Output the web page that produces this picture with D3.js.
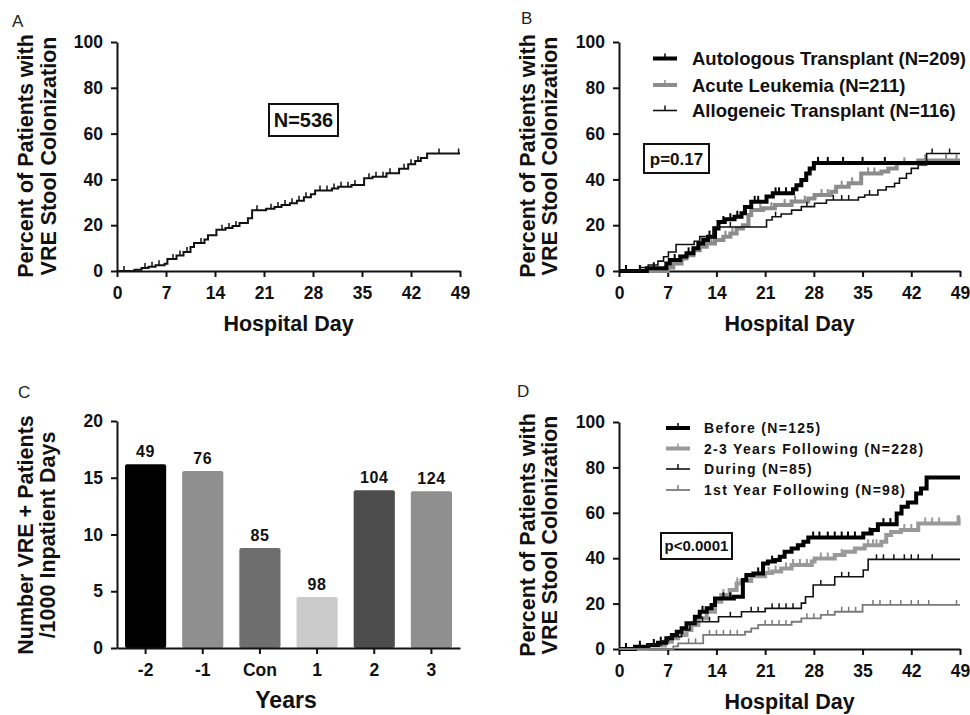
<!DOCTYPE html>
<meta charset="utf-8">
<style>
body { margin: 0; background: #fff; }
svg { display: block; }
.ttl { font-family: "Liberation Sans", Arial, sans-serif; font-weight: bold; fill: #111; }
.axis path, .axis line { stroke: #111; stroke-width: 2px; }
</style>
<body>
<script src="https://d3js.org/d3.v7.min.js"></script>
<script>

// shared axis ticks
const dayTicks = [0, 7, 14, 21, 28, 35, 42, 49];
const pctTicks = [0, 20, 40, 60, 80, 100];

// panel A: whole cohort, [day, percent] at each step
const stepsAll = [[0,0],[2.5,0.6],[3.5,1.3],[4.5,1.9],[5.5,2.5],[6.8,3.2],[7.2,5.2],[8.5,6.8],[9.5,8.3],[10.5,10.5],[11,12.2],[12.5,13.8],[13,15.6],[14.2,18],[15.5,18.8],[16.5,19.6],[17.5,21],[18.7,23],[19.3,26.5],[21.3,27.2],[22.5,28],[23.5,28.8],[24.7,29.6],[25.7,30.7],[26.7,32.2],[27.7,33.5],[28.3,35.2],[30.7,36],[31.6,36.8],[33.5,37.6],[35.3,40.5],[36.5,41.2],[38.5,42.7],[40.3,44.6],[41.6,46.6],[42.6,48],[43.4,49.3],[44.3,51.3]];
const censorAll = [1,4,5,6,8,9,10,12,15,16,17,20,22,23,24,25,26,27,29,30,31,32,33,34,36,37,38,39,41,42,43,46,48.8];

// panel B: by diagnosis
const stepsAuto = [[0,0],[4,1.2],[6.8,3.3],[7.3,4.8],[8.8,6.3],[9.7,7.7],[10.7,9.9],[11.4,12],[12.1,13.5],[12.8,15],[13.8,18.6],[14.3,21.4],[15.2,22.6],[16.6,23.7],[17.6,25.2],[18.1,28],[19,30.2],[21.2,32.5],[22.1,33.9],[25,35.7],[25.5,37.5],[26.2,39.7],[26.9,42.6],[27.4,44.8],[28,47.2]];
const censorAuto = [1,3,5,8,10,13,15,16,17,19.5,20,22.5,23,24,28.6,30,32.2,35,38.2];
const stepsLeuk = [[0,0],[7,1.5],[7.8,3.3],[9,5.5],[9.7,6.9],[10.7,9.1],[11.6,10.6],[12.6,12],[13.8,13.5],[15,15],[16,16.4],[16.9,18.6],[17.8,20],[18.6,24.4],[19,26.6],[20.7,27.4],[22.4,28.8],[24.8,30.3],[27.2,31.7],[28.1,33.2],[30.5,34.6],[31.2,36.8],[33,38.3],[34.8,42.6],[37.7,43.4],[38.7,44.8],[39.9,47],[43,48.3]];
const censorLeuk = [12.9,13.3,15.3,16.3,20.3,21.9,23.8,25.3,26.7,29.1,30,32,33.5,35.8,36.7,41,44,47,48.5];
const stepsAllo = [[0,0],[3,1.5],[4.2,2.6],[5.6,4.3],[6.4,6.2],[7.1,8.3],[8.2,11.6],[10.8,13],[11.6,15],[13.5,19.2],[21.2,22.3],[22,23.7],[23.3,24.9],[24.8,26.6],[26.2,28.1],[28.1,29.6],[29.8,31],[34.4,32.2],[35.3,33.2],[37.2,35.4],[38.4,36.8],[39.6,38.3],[40.3,40.5],[41.3,42.6],[42,44.8],[43,46.3],[44.2,51.3]];
const censorAllo = [1,16,22.5,27,30.8,32,33,36,45,47.5];

// panel C: rate per 1000 inpatient days, by year
const years = ["-2", "-1", "Con", "1", "2", "3"];
const rates = [16.2, 15.6, 8.8, 4.5, 13.9, 13.8];
const patients = [49, 76, 85, 98, 104, 124];
const barFills = ["#000000", "#8f8f8f", "#6e6e6e", "#cbcbcb", "#4d4d4d", "#8f8f8f"];

// panel D: by period
const stepsBefore = [[0,0],[2.3,1],[4.2,1.8],[5.6,2.8],[6.8,4.7],[7.6,6.2],[8.3,7.6],[9,9.1],[9.7,11.3],[10.9,14.2],[11.6,16.4],[12.6,17.9],[13.3,19.4],[13.8,22.3],[16.5,23],[17.8,30.4],[18.3,32.6],[19.3,33.3],[20.7,37.7],[21.4,38.5],[22.4,39.2],[23.1,40.6],[23.8,42.8],[24.8,44.3],[25.7,45.7],[26.5,47.2],[27.2,49.1],[35.1,50.9],[36.3,52.4],[37.2,55],[39.9,59.7],[40.6,62.7],[41.5,64.5],[42.7,68.5],[43.4,70.7],[44.2,75.5]];
const censorBefore = [1,3,5,6,12,15,16,20,22,27.9,28.8,30,31,32,32.9,33.9,36,38,39];
const stepsLater = [[0,0],[4.2,1.5],[6.6,3.2],[7.6,4.7],[8.5,6.2],[9.7,8.4],[10.4,10.6],[11.4,13.5],[12.6,16.4],[13.8,20.8],[14.7,23.8],[15.9,26],[16.9,28.9],[17.6,30],[19,32],[21,33.5],[22,34.1],[23.3,35.5],[24.8,37],[27.7,38.5],[28.1,39.9],[31,41.4],[32.4,42.8],[33.9,44.3],[35.3,45.7],[37.7,47.2],[38.4,50.2],[39.1,51.5],[40.5,52.4],[43,55.3],[48.8,58]];
const censorLater = [15,17,21.5,22.5,24,25,26,27,29,30,32,35.8,36.5,37,41,42,44,45,46];
const stepsDuring = [[0,0],[4.2,1.8],[6.1,3.5],[7.1,5.4],[9,8.4],[10.2,11.3],[10.9,12],[14.3,14.2],[17.6,16.4],[21,17.9],[26.2,20.2],[26.8,23],[27.9,28.2],[31,31.8],[35.1,34.8],[35.8,39.5]];
const censorDuring = [3,5,12,13,16,19,20,22,23,24,25,29,32,33,37,38,39.5,41,42,43,45];
const stepsFirst = [[0,0],[7.8,1.2],[8.5,2.5],[12.1,6.2],[18.1,7.6],[19,9.1],[20,10.6],[24.8,12],[26.2,13.5],[29,15],[31,16.4],[35,19.4]];
const censorFirst = [10,11,13,14,15,16,17,21,22,23,24,27,28,30,32,33,34,36.5,37.5,39,40.5,42,43,44.5,48.5];

const svg = d3.select("body").append("svg")
   .attr("width", 970)
   .attr("height", 715);

const plotA = {left: 117, right: 460, top: 42, bottom: 271};
const plotB = {left: 619, right: 960, top: 42, bottom: 271};
const plotC = {left: 117, right: 460, top: 421, bottom: 648};
const plotD = {left: 619, right: 960, top: 422, bottom: 649};

function panelLetter(txt, x, y) {
   svg.append("text")
      .attr("x", x).attr("y", y)
      .style("font-family", "Liberation Sans, Arial, sans-serif")
      .style("font-size", "17px")
      .style("fill", "#222")
      .text(txt);
}

function yTitle(lines, x1, x2, yc) {
   [x1, x2].forEach(function(x, i) {
      svg.append("text")
         .attr("class", "ttl")
         .attr("transform", `translate(${x},${yc}) rotate(-90)`)
         .attr("text-anchor", "middle")
         .style("font-size", "21.5px")
         .text(lines[i]);
   });
}

function boxLabel(txt, x0, y0, x1, y1, size) {
   svg.append("rect")
      .attr("x", x0).attr("y", y0)
      .attr("width", x1 - x0).attr("height", y1 - y0)
      .attr("fill", "#fff").attr("stroke", "#111").attr("stroke-width", 2);
   svg.append("text")
      .attr("class", "ttl")
      .attr("x", (x0 + x1) / 2).attr("y", (y0 + y1) / 2)
      .attr("dy", "0.36em")
      .attr("text-anchor", "middle")
      .style("font-size", size)
      .text(txt);
}

// bold tick labels, set on the text itself so d3's font attrs don't win
function styleTicks(g) {
   g.selectAll(".tick text")
      .style("font-family", "Liberation Sans, Arial, sans-serif")
      .style("font-weight", "bold")
      .style("font-size", "17.5px")
      .style("fill", "#111");
}

function kmPanel(p, series) {
   const x = d3.scaleLinear().domain([0, 49]).range([p.left, p.right]);
   const y = d3.scaleLinear().domain([0, 100]).range([p.bottom, p.top]);

   svg.append("g")
      .attr("class", "axis")
      .attr("transform", `translate(0,${p.bottom})`)
      .call(d3.axisBottom(x).tickValues(dayTicks).tickSizeInner(6).tickSizeOuter(0).tickPadding(10))
      .call(styleTicks);
   svg.append("g")
      .attr("class", "axis")
      .attr("transform", `translate(${p.left},0)`)
      .call(d3.axisLeft(y).tickValues(pctTicks).tickSizeInner(6).tickSizeOuter(0).tickPadding(8))
      .call(styleTicks);

   svg.append("text")
      .attr("class", "ttl")
      .attr("x", (p.left + p.right) / 2).attr("y", p.bottom + 60)
      .attr("text-anchor", "middle")
      .style("font-size", "21.5px")
      .text("Hospital Day");

   const line = d3.line()
      .curve(d3.curveStepAfter)
      .x(d => x(d[0]))
      .y(d => y(d[1]));

   series.forEach(function(s) {
      const pts = s.steps.concat([[s.end, s.steps[s.steps.length - 1][1]]]);
      svg.append("path")
         .attr("d", line(pts))
         .attr("fill", "none")
         .attr("stroke", s.color)
         .attr("stroke-width", s.width);

      // censor marks sit on the curve value at that day
      const at = d3.bisector(d => d[0]).right;
      svg.append("g")
         .selectAll("line")
         .data(s.censor)
         .join("line")
         .attr("x1", d => x(d)).attr("x2", d => x(d))
         .attr("y1", d => y(s.steps[at(s.steps, d) - 1][1]))
         .attr("y2", d => y(s.steps[at(s.steps, d) - 1][1]) - (s.width > 2 ? 6 : 5))
         .attr("stroke", s.color)
         .attr("stroke-width", s.width > 2 ? 2 : 1.5);
   });
   return {x: x, y: y};
}

function legend(items, lx0, lx1, tx, rows, font) {
   items.forEach(function(s, i) {
      const ly = rows[i];
      svg.append("line")
         .attr("x1", lx0).attr("x2", lx1)
         .attr("y1", ly).attr("y2", ly)
         .attr("stroke", s.color).attr("stroke-width", s.width);
      svg.append("line")
         .attr("x1", (lx0 + lx1) / 2).attr("x2", (lx0 + lx1) / 2)
         .attr("y1", ly).attr("y2", ly - 5)
         .attr("stroke", s.color).attr("stroke-width", 1.5);
      svg.append("text")
         .attr("x", tx).attr("y", ly)
         .attr("dy", "0.36em")
         .style("font-family", font.family)
         .style("font-weight", "bold")
         .style("font-size", font.size)
         .style("letter-spacing", font.spacing)
         .style("fill", "#111")
         .text(s.name);
   });
}

////* Panel A *////
panelLetter("A", 12, 27);
yTitle(["Percent of Patients with", "VRE Stool Colonization"], 33, 56, 156);
kmPanel(plotA, [
   {steps: stepsAll, censor: censorAll, end: 49, color: "#111", width: 2}
]);
boxLabel("N=536", 269, 104, 338, 136, "20px");

////* Panel B *////
panelLetter("B", 521, 24);
yTitle(["Percent of Patients with", "VRE Stool Colonization"], 535, 557, 156);
const seriesB = [
   {name: "Autologous Transplant (N=209)", steps: stepsAuto, censor: censorAuto, end: 49, color: "#000", width: 4},
   {name: "Acute Leukemia (N=211)", steps: stepsLeuk, censor: censorLeuk, end: 49, color: "#8c8c8c", width: 4},
   {name: "Allogeneic Transplant (N=116)", steps: stepsAllo, censor: censorAllo, end: 49, color: "#111", width: 1.6}
];
kmPanel(plotB, [seriesB[1], seriesB[0], seriesB[2]]);
legend(seriesB, 653, 677, 692, [58.5, 85, 110.5],
   {family: "Liberation Sans, Arial, sans-serif", size: "18.5px", spacing: "0px"});
boxLabel("p=0.17", 644, 144, 709, 173, "17px");

////* Panel C *////
panelLetter("C", 18, 398);
yTitle(["Number VRE + Patients", "/1000 Inpatient Days"], 33, 55, 535);

const xC = d3.scaleBand().domain(years).range([plotC.left, plotC.right]).paddingInner(0.28).paddingOuter(0.14);
const yC = d3.scaleLinear().domain([0, 20]).range([plotC.bottom, plotC.top]);

svg.append("g")
   .selectAll("rect")
   .data(years)
   .join("rect")
   .attr("x", d => xC(d))
   .attr("y", (d, i) => yC(rates[i]))
   .attr("width", xC.bandwidth())
   .attr("height", (d, i) => yC(0) - yC(rates[i]))
   .attr("rx", 2)
   .attr("fill", (d, i) => barFills[i]);

svg.append("g")
   .selectAll("text")
   .data(years)
   .join("text")
   .attr("x", d => xC(d) + xC.bandwidth() / 2)
   .attr("y", (d, i) => yC(rates[i]) - 7)
   .attr("text-anchor", "middle")
   .style("font-family", "Liberation Sans, Arial, sans-serif")
   .style("font-weight", "bold")
   .style("font-size", "16px")
   .style("letter-spacing", "0.6px")
   .style("fill", "#111")
   .text((d, i) => patients[i]);

svg.append("g")
   .attr("class", "axis")
   .attr("transform", `translate(0,${plotC.bottom})`)
   .call(d3.axisBottom(xC).tickSizeInner(6).tickSizeOuter(0).tickPadding(10))
   .call(styleTicks);
svg.append("g")
   .attr("class", "axis")
   .attr("transform", `translate(${plotC.left},0)`)
   .call(d3.axisLeft(yC).tickValues([0, 5, 10, 15, 20]).tickSizeInner(6).tickSizeOuter(0).tickPadding(8))
   .call(styleTicks);

svg.append("text")
   .attr("class", "ttl")
   .attr("x", 286).attr("y", 708)
   .attr("text-anchor", "middle")
   .style("font-size", "23px")
   .text("Years");

////* Panel D *////
panelLetter("D", 517, 397);
yTitle(["Percent of Patients with", "VRE Stool Colonization"], 535, 557, 535);
const seriesD = [
   {name: "Before (N=125)", steps: stepsBefore, censor: censorBefore, end: 49, color: "#000", width: 4},
   {name: "2-3 Years Following (N=228)", steps: stepsLater, censor: censorLater, end: 49, color: "#999", width: 4},
   {name: "During (N=85)", steps: stepsDuring, censor: censorDuring, end: 49, color: "#111", width: 1.6},
   {name: "1st Year Following (N=98)", steps: stepsFirst, censor: censorFirst, end: 49, color: "#7a7a7a", width: 1.8}
];
kmPanel(plotD, [seriesD[1], seriesD[0], seriesD[2], seriesD[3]]);
legend(seriesD, 666, 690, 704, [428, 448.5, 469, 490],
   {family: "Liberation Sans, Arial, sans-serif", size: "14px", spacing: "1.3px"});
boxLabel("p<0.0001", 661, 533, 732, 559, "15px");

</script>
</body>
</html>
